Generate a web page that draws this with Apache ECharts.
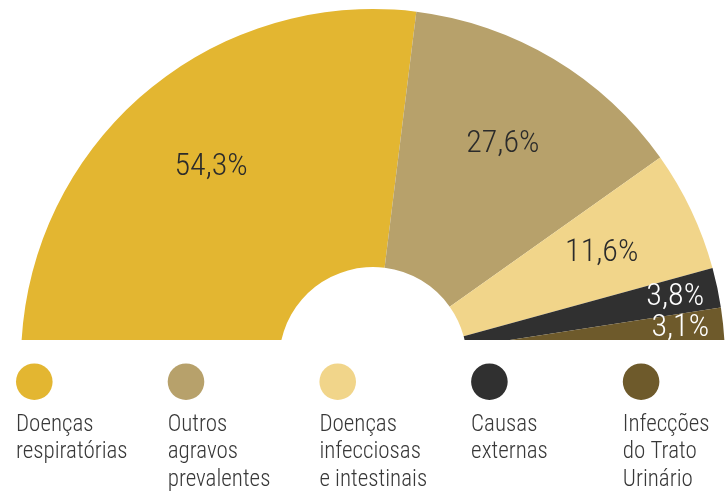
<!DOCTYPE html>
<html>
<head>
<meta charset="utf-8">
<script src="https://cdn.jsdelivr.net/npm/echarts@6/dist/echarts.min.js"></script>
<style>
html,body{margin:0;padding:0;background:#fff;}
#chart{width:725px;height:493px;}
</style>
</head>
<body>
<div id="chart"></div>
<script>
var categories = ['Doenças respiratórias', 'Outros agravos prevalentes', 'Doenças infecciosas e intestinais', 'Causas externas', 'Infecções do Trato Urinário'];
var legendLines = ['Doenças\nrespiratórias', 'Outros\nagravos\nprevalentes', 'Doenças\ninfecciosas\ne intestinais', 'Causas\nexternas', 'Infecções\ndo Trato\nUrinário'];
var values = [54.3, 27.6, 11.6, 3.8, 3.1];
var colors = ['#E3B631', '#B7A16B', '#F1D58A', '#303030', '#6E5A2B'];
var labelColors = ['#2b2b2b', '#2b2b2b', '#2b2b2b', '#ffffff', '#ffffff'];

var FONT = "'Roboto Condensed', 'Liberation Sans Narrow', sans-serif";
var CENTER = [373, 361];
var START = 176.6, END = 3.4;

var chart = echarts.init(document.getElementById('chart'), null, {renderer: 'canvas'});

function fmt(p) { return String(p.value).replace('.', ',') + '%'; }

var sectorData = values.map(function (v, i) {
  return {name: categories[i], value: v, itemStyle: {color: colors[i]}};
});
// labels of the wide slices sit nearer the middle of the ring,
// labels of the narrow slices nearer its rim
function labelData(show) {
  return values.map(function (v, i) {
    return {name: categories[i], value: v, label: {show: show(i), color: labelColors[i]}};
  });
}

var labelStyle = {
  position: 'inside',
  fontFamily: FONT,
  fontWeight: 300,
  fontSize: 32,
  formatter: fmt
};

var graphics = [{
  type: 'rect',
  z: 10,
  shape: {x: 0, y: 340, width: 725, height: 153},
  style: {fill: '#ffffff'}
}];
legendLines.forEach(function (t, i) {
  var left = 16 + i * 151.7;
  graphics.push({
    type: 'circle',
    z: 20,
    shape: {cx: left + 18.3, cy: 381.7, r: 18.3},
    style: {fill: colors[i]}
  });
  graphics.push({
    type: 'text',
    z: 20,
    x: left,
    y: 411,
    style: {
      text: t,
      font: '300 23px ' + FONT,
      lineHeight: 27.5,
      fill: '#383838',
      verticalAlign: 'top',
      align: 'left'
    }
  });
});

function labelSeries(radius, show) {
  return {
    type: 'pie',
    z: 5,
    center: CENTER,
    radius: radius,
    startAngle: START,
    endAngle: END,
    silent: true,
    itemStyle: {color: 'rgba(0,0,0,0)', borderWidth: 0},
    label: labelStyle,
    labelLayout: {hideOverlap: false},
    labelLine: {show: false},
    data: labelData(show)
  };
}

chart.setOption({
  animation: false,
  backgroundColor: '#ffffff',
  graphic: graphics,
  series: [{
    type: 'pie',
    z: 2,
    center: CENTER,
    radius: [94, 352],
    startAngle: START,
    endAngle: END,
    silent: true,
    label: {show: false},
    labelLine: {show: false},
    itemStyle: {borderWidth: 0},
    data: sectorData
  },
  labelSeries([200, 300], function (i) { return values[i] >= 10; }),
  labelSeries([262, 350], function (i) { return values[i] < 10; })
  ]
});
</script>
</body>
</html>
